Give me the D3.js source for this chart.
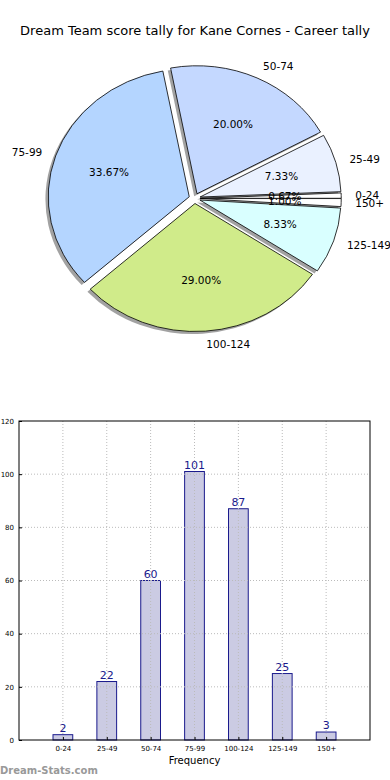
<!DOCTYPE html>
<html><head><meta charset="utf-8">
<script src="https://cdn.jsdelivr.net/npm/d3@7/dist/d3.min.js"></script>
<style>body{margin:0;background:#fff}svg{display:block;font-family:"DejaVu Sans",sans-serif}</style>
</head><body><svg id="c" width="390" height="780"></svg>
<script>
const categories = ["0-24","25-49","50-74","75-99","100-124","125-149","150+"];
const counts = [2,22,60,101,87,25,3];
const pieColors = ["#ffffff","#eaf1ff","#c4d8ff","#b4d5ff","#d0eb8a","#d9ffff","#ffffff"];
const yTicks = [0,20,40,60,80,100,120];
const title = "Dream Team score tally for Kane Cornes - Career tally";

const svg = d3.select("#c");
svg.append("text").attr("x",195).attr("y",35).attr("text-anchor","middle")
  .attr("font-size",13).attr("fill","#000").text(title);

// Pie (matplotlib style: start at 3 o'clock, counterclockwise, explode, shadow)
const cx = 194.6, cy = 198.4, rx = 141, ry = 128, R = 100, explode = 0.04;
const total = d3.sum(counts);
let acc = 0;
const slices = counts.map((v,i)=>{ const t1 = acc/total*2*Math.PI; acc += v; const t2 = acc/total*2*Math.PI; return {i,v,t1,t2,tm:(t1+t2)/2}; });
const arc = d3.arc().innerRadius(0).outerRadius(R);
const gPie = svg.append("g");
function tf(s, dx, dy){
  const x = cx + explode*rx*Math.cos(s.tm) + dx, y = cy - explode*ry*Math.sin(s.tm) + dy;
  return `translate(${x},${y}) scale(${rx/R},${ry/R})`;
}
function path(s){ return arc({startAngle: Math.PI/2 - s.t2, endAngle: Math.PI/2 - s.t1}); }
gPie.selectAll("path.sh").data(slices).join("path").attr("class","sh")
  .attr("d",path).attr("transform",s=>tf(s,-0.02*rx,0.02*ry))
  .attr("fill","#555").attr("fill-opacity",0.55);
gPie.selectAll("path.w").data(slices).join("path").attr("class","w")
  .attr("d",path).attr("transform",s=>tf(s,0,0))
  .attr("fill",s=>pieColors[s.i]).attr("stroke","#000").attr("stroke-width",0.8)
  .style("vector-effect","non-scaling-stroke");
slices.forEach(s=>{
  const ox = cx + explode*rx*Math.cos(s.tm), oy = cy - explode*ry*Math.sin(s.tm);
  const lx = ox + 1.1*rx*Math.cos(s.tm), ly = oy - 1.1*ry*Math.sin(s.tm);
  gPie.append("text").attr("x",lx).attr("y",ly).attr("dy","0.35em")
    .attr("text-anchor", Math.cos(s.tm)>0?"start":"end").attr("font-size",10.5).text(categories[s.i]);
  const px = ox + 0.6*rx*Math.cos(s.tm), py = oy - 0.6*ry*Math.sin(s.tm);
  gPie.append("text").attr("x",px).attr("y",py).attr("dy","0.35em")
    .attr("text-anchor","middle").attr("font-size",10.5).text((s.v/total*100).toFixed(2)+"%");
});

// Bar chart
const L = 19, Rr = 370, T = 421, B = 740;
const x = d3.scaleLinear().domain([-1,7]).range([L,Rr]);
const y = d3.scaleLinear().domain([0,120]).range([B,T]);
const g = svg.append("g");
const bw = x(0.45)-x(0);
g.selectAll("rect.b").data(counts).join("rect").attr("class","b")
  .attr("x",(d,i)=>x(i)-bw/2).attr("y",d=>y(d)).attr("width",bw).attr("height",d=>B-y(d))
  .attr("fill","#cbcbe3").attr("stroke","#1a1a8c").attr("stroke-width",1);
// grid
g.selectAll("line.gx").data(categories).join("line").attr("class","gx")
  .attr("x1",(d,i)=>x(i)).attr("x2",(d,i)=>x(i)).attr("y1",T).attr("y2",B)
  .attr("stroke","#bbb").attr("stroke-width",1).attr("stroke-dasharray","1,2");
g.selectAll("line.gy").data(yTicks.slice(1,-1)).join("line").attr("class","gy")
  .attr("x1",L).attr("x2",Rr).attr("y1",d=>y(d)).attr("y2",d=>y(d))
  .attr("stroke","#bbb").attr("stroke-width",1).attr("stroke-dasharray","1,2");
// frame
g.append("rect").attr("x",L).attr("y",T).attr("width",Rr-L).attr("height",B-T)
  .attr("fill","none").attr("stroke","#000").attr("stroke-width",1);
// ticks
const yAxis = d3.axisLeft(y).tickValues(yTicks).tickSize(-3).tickPadding(5);
g.append("g").attr("transform",`translate(${L},0)`).call(yAxis)
  .call(a=>a.select(".domain").remove())
  .call(a=>a.selectAll("text").attr("font-size",7).attr("font-family","DejaVu Sans").attr("fill","#000"));
const xAxis = d3.axisBottom(x).tickValues(d3.range(categories.length)).tickFormat(i=>categories[i]).tickSize(-3).tickPadding(6);
g.append("g").attr("transform",`translate(0,${B})`).call(xAxis)
  .call(a=>a.select(".domain").remove())
  .call(a=>a.selectAll("text").attr("font-size",7).attr("font-family","DejaVu Sans").attr("fill","#000"));
g.selectAll("text.v").data(counts).join("text").attr("class","v")
  .attr("x",(d,i)=>x(i)).attr("y",d=>y(d)-3).attr("text-anchor","middle")
  .attr("font-size",11).attr("fill","#1a1a8c").text(d=>d);
svg.append("text").attr("x",194.5).attr("y",764).attr("text-anchor","middle").attr("font-size",10).text("Frequency");
svg.append("text").attr("x",0).attr("y",774).attr("font-size",10).attr("font-weight","bold").attr("fill","#999").text("Dream-Stats.com");
</script></body></html>
